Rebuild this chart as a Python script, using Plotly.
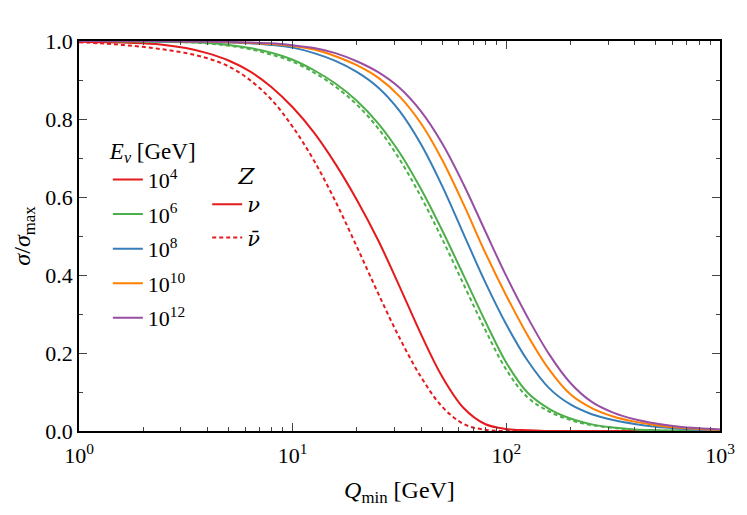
import plotly.graph_objects as go

# Q_min grid [GeV], ten points per decade
q_min = [1, 1.259, 1.585, 1.995, 2.512, 3.162, 3.981, 5.012, 6.310, 7.943,
         10, 12.59, 15.85, 19.95, 25.12, 31.62, 39.81, 50.12, 63.10, 79.43,
         100, 125.9, 158.5, 199.5, 251.2, 316.2, 398.1, 501.2, 631.0, 794.3, 1000]

# sigma / sigma_max
e4_nu = [0.998, 0.997, 0.996, 0.994, 0.990, 0.982, 0.969, 0.950, 0.922, 0.882,
         0.830, 0.765, 0.685, 0.593, 0.489, 0.371, 0.249, 0.139, 0.059, 0.018,
         0.005, 0.002, 0, 0, 0, 0, 0, 0, 0, 0, 0]
e4_nubar = [0.997, 0.994, 0.990, 0.985, 0.978, 0.969, 0.956, 0.935, 0.900, 0.850,
            0.780, 0.693, 0.589, 0.473, 0.353, 0.239, 0.139, 0.062, 0.018, 0.003,
            0, 0, 0, 0, 0, 0, 0, 0, 0, 0, 0]
e6_nu = [1.0, 1.0, 0.999, 0.999, 0.998, 0.997, 0.995, 0.990, 0.982, 0.970,
         0.952, 0.925, 0.891, 0.847, 0.789, 0.714, 0.621, 0.514, 0.399, 0.283,
         0.175, 0.098, 0.057, 0.032, 0.017, 0.009, 0.004, 0.002, 0.001, 0.0005, 0]
e6_nubar = [1.0, 1.0, 0.999, 0.999, 0.998, 0.997, 0.994, 0.988, 0.979, 0.965,
            0.947, 0.919, 0.883, 0.837, 0.776, 0.697, 0.601, 0.492, 0.376, 0.261,
            0.157, 0.086, 0.050, 0.028, 0.015, 0.008, 0.003, 0.0015, 0.001, 0, 0]
e8_nu = [1.0, 1.0, 1.0, 1.0, 0.999, 0.999, 0.998, 0.996, 0.994, 0.990,
         0.983, 0.969, 0.949, 0.921, 0.881, 0.821, 0.736, 0.628, 0.505, 0.383,
         0.273, 0.180, 0.110, 0.068, 0.043, 0.028, 0.018, 0.011, 0.0065, 0.0035, 0.002]
e10_nu = [1.0, 1.0, 1.0, 1.0, 1.0, 0.999, 0.999, 0.997, 0.995, 0.992,
          0.987, 0.978, 0.961, 0.938, 0.906, 0.858, 0.789, 0.695, 0.581, 0.459,
          0.347, 0.245, 0.158, 0.094, 0.0585, 0.037, 0.024, 0.015, 0.009, 0.0054, 0.003]
e12_nu = [1.0, 1.0, 1.0, 1.0, 1.0, 0.999, 0.999, 0.998, 0.996, 0.994,
          0.989, 0.982, 0.969, 0.948, 0.920, 0.880, 0.820, 0.737, 0.632, 0.514,
          0.397, 0.291, 0.197, 0.123, 0.0745, 0.047, 0.030, 0.019, 0.0117, 0.007, 0.004]

energy_labels = ['10<sup>4</sup>', '10<sup>6</sup>', '10<sup>8</sup>', '10<sup>10</sup>', '10<sup>12</sup>']
colors = ['#e41a1c', '#4daf4a', '#377eb8', '#ff7f00', '#984ea3']

x_tickvals = [1, 10, 100, 1000]
x_ticktext = ['10<sup>0</sup>', '10<sup>1</sup>', '10<sup>2</sup>', '10<sup>3</sup>']
x_minor = [2, 3, 4, 5, 6, 7, 8, 9, 20, 30, 40, 50, 60, 70, 80, 90, 200, 300, 400, 500, 600, 700, 800, 900]

fig = go.Figure()

# dashed (anti-neutrino) curves first
fig.add_trace(go.Scatter(x=q_min, y=e4_nubar, mode='lines', line=dict(color=colors[0], width=2, dash='4px,3px'),
                         line_shape='spline', showlegend=False))
fig.add_trace(go.Scatter(x=q_min, y=e6_nubar, mode='lines', line=dict(color=colors[1], width=2, dash='4px,3px'),
                         line_shape='spline', showlegend=False))

# solid (neutrino) curves, legend 1
for i, ys in enumerate([e4_nu, e6_nu, e8_nu, e10_nu, e12_nu]):
    fig.add_trace(go.Scatter(x=q_min, y=ys, mode='lines', name=energy_labels[i],
                             line=dict(color=colors[i], width=2), line_shape='spline',
                             legend='legend', legendgroup='e%d' % i))

# legend 2: nu / nubar
fig.add_trace(go.Scatter(x=[None], y=[None], mode='lines', name='<i>ν</i>',
                         line=dict(color=colors[0], width=2), legend='legend2', legendgroup='nu'))
fig.add_trace(go.Scatter(x=[None], y=[None], mode='lines', name='<i>ν̄</i>',
                         line=dict(color=colors[0], width=2, dash='4px,3px'), legend='legend2', legendgroup='nubar'))

font = 'Liberation Serif'

fig.update_layout(
    width=747, height=515,
    margin=dict(l=79, r=18, t=41, b=84),
    plot_bgcolor='white', paper_bgcolor='white',
    font=dict(family=font, size=22, color='black'),
    legend=dict(x=0.045, y=0.775, xanchor='left', yanchor='top',
                title=dict(text='<i>E</i><sub><i>ν</i></sub> [GeV]', font=dict(size=23)),
                font=dict(size=22), bgcolor='rgba(0,0,0,0)', itemwidth=30,
                tracegroupgap=3, traceorder='grouped'),
    legend2=dict(x=0.2, y=0.71, xanchor='left', yanchor='top',
                 title=dict(text='    <i>Z</i>', font=dict(size=23)),
                 font=dict(size=21, family='DejaVu Serif'), bgcolor='rgba(0,0,0,0)', itemwidth=30,
                 tracegroupgap=3, traceorder='grouped'),
)

fig.update_xaxes(type='log', range=[0, 3], tickvals=x_tickvals, ticktext=x_ticktext,
                 ticks='inside', ticklen=8, tickwidth=1.2, showline=True, linecolor='black', linewidth=1.5,
                 mirror='allticks', showgrid=False, zeroline=False, ticklabelstandoff=4,
                 minor=dict(tickvals=x_minor, ticks='inside', ticklen=4, tickwidth=1, showgrid=False),
                 title=dict(text='<i>Q</i><sub>min</sub> [GeV]', font=dict(size=24), standoff=14),
                 tickfont=dict(size=22))
fig.update_yaxes(range=[0, 1.0], tickvals=[0, 0.2, 0.4, 0.6, 0.8, 1.0],
                 ticktext=['0.0', '0.2', '0.4', '0.6', '0.8', '1.0'],
                 ticks='inside', ticklen=8, tickwidth=1.2, showline=True, linecolor='black', linewidth=1.5,
                 mirror='allticks', showgrid=False, zeroline=False,
                 minor=dict(dtick=0.1, ticks='inside', ticklen=4, tickwidth=1, showgrid=False),
                 title=dict(text='<i>σ</i>/<i>σ</i><sub>max</sub>', font=dict(size=24), standoff=8),
                 tickfont=dict(size=22))

# page body margin would shift the plot by 8px
fig.write_html('out.html', config={'displayModeBar': False},
               post_script="document.body.style.margin='0';")
